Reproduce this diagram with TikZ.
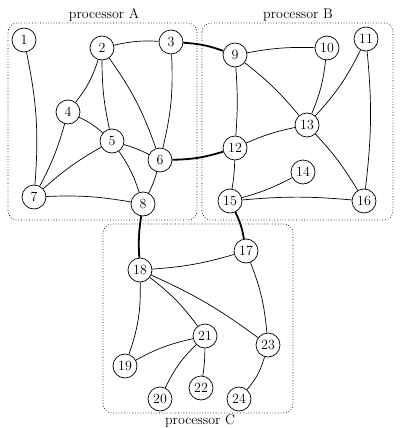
\documentclass[tikz,border=0pt]{standalone}
\begin{document}
\begin{tikzpicture}[x=1pt,y=-1pt,
  vtx/.style={circle,draw,line width=0.7pt,minimum size=24pt,inner sep=0pt,font=\fontsize{14}{16}\selectfont,fill=white},
  edg/.style={line width=0.7pt},
  cut/.style={line width=1.8pt},
  proc/.style={dotted,line width=0.7pt,rounded corners=9pt},
  plabel/.style={font=\fontsize{14}{16}\selectfont,anchor=base,inner sep=0pt}]
\useasboundingbox (0,0) rectangle (400,428);
% processor boxes
\draw[proc] (8,23) rectangle (197,220);
\draw[proc] (202,23) rectangle (393,220);
\draw[proc] (103,224) rectangle (293,413);
\node[plabel] (la) at (104,18.5) {processor A};
\node[plabel] (lb) at (298,18.5) {processor B};
\node[plabel] (lc) at (200,424.5) {processor C};
% nodes
\node[vtx] (n1) at (24,40) {1};
\node[vtx] (n2) at (102,48) {2};
\node[vtx] (n3) at (171,42) {3};
\node[vtx] (n4) at (68,112) {4};
\node[vtx] (n5) at (112,141) {5};
\node[vtx] (n6) at (160,160) {6};
\node[vtx] (n7) at (34,197) {7};
\node[vtx] (n8) at (143,204) {8};
\node[vtx] (n9) at (235,55) {9};
\node[vtx] (n10) at (327,48) {10};
\node[vtx] (n11) at (366,39) {11};
\node[vtx] (n12) at (235,148) {12};
\node[vtx] (n13) at (307,125) {13};
\node[vtx] (n14) at (303,172) {14};
\node[vtx] (n15) at (230,201) {15};
\node[vtx] (n16) at (364,201) {16};
\node[vtx] (n17) at (246,251) {17};
\node[vtx] (n18) at (140,270) {18};
\node[vtx] (n19) at (125,366) {19};
\node[vtx] (n20) at (160,399) {20};
\node[vtx] (n21) at (205,336) {21};
\node[vtx] (n22) at (201,388) {22};
\node[vtx] (n23) at (268,345) {23};
\node[vtx] (n24) at (239,399) {24};
% edges processor A
\draw[edg] (n1) to[bend left=8] (n7);
\draw[edg] (n2) to[bend left=8] (n3);
\draw[edg] (n2) to[bend left=10] (n4);
\draw[edg] (n2) to[bend right=6] (n5);
\draw[edg] (n2) to[bend left=8] (n6);
\draw[edg] (n3) to[bend left=8] (n6);
\draw[edg] (n4) to[bend left=8] (n5);
\draw[edg] (n4) to[bend left=6] (n7);
\draw[edg] (n5) to[bend right=6] (n7);
\draw[edg] (n5) to[bend left=5] (n6);
\draw[edg] (n5) to[bend left=8] (n8);
\draw[edg] (n6) to[bend left=6] (n8);
\draw[edg] (n7) to[bend left=6] (n8);
% processor B
\draw[edg] (n9) to[bend left=6] (n10);
\draw[edg] (n9) to[bend left=4] (n12);
\draw[edg] (n9) to[bend left=6] (n13);
\draw[edg] (n10) to[bend left=8] (n13);
\draw[edg] (n11) to[bend left=8] (n13);
\draw[edg] (n11) to[bend left=6] (n16);
\draw[edg] (n12) to[bend left=6] (n13);
\draw[edg] (n12) to[bend left=4] (n15);
\draw[edg] (n13) to[bend left=6] (n16);
\draw[edg] (n14) to[bend left=6] (n15);
\draw[edg] (n15) to[bend left=5] (n16);
% processor C
\draw[edg] (n17) to[bend left=6] (n18);
\draw[edg] (n17) to[bend left=8] (n23);
\draw[edg] (n18) to[bend left=10] (n19);
\draw[edg] (n18) to[bend left=8] (n21);
\draw[edg] (n18) to[bend left=6] (n23);
\draw[edg] (n19) to[bend left=8] (n21);
\draw[edg] (n20) to[bend left=10] (n21);
\draw[edg] (n21) to[bend left=4] (n22);
\draw[edg] (n23) to[bend left=12] (n24);
% cut edges
\draw[cut] (n3) to[bend left=8] (n9);
\draw[cut] (n6) to[bend right=8] (n12);
\draw[cut] (n8) to[bend right=6] (n18);
\draw[cut] (n15) to[bend left=8] (n17);
\end{tikzpicture}
\end{document}
